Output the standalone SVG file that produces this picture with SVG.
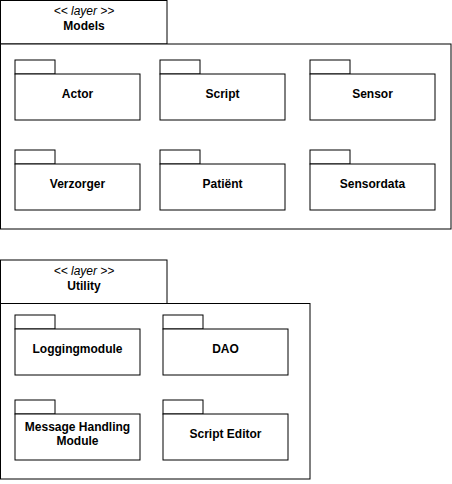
<svg xmlns="http://www.w3.org/2000/svg" width="452" height="484" viewBox="0 0 452 484">
<style>
  .s{fill:#fff;stroke:#000;stroke-width:1}
  .t{font-family:"Liberation Sans",Arial,sans-serif;font-size:12px;font-weight:bold;text-anchor:middle;fill:#000}
  .st{font-family:"Liberation Sans",Arial,sans-serif;font-size:12px;font-style:italic;text-anchor:middle;fill:#000}
</style>
<rect width="452" height="484" fill="#fff"/>
<g id="layer-models">
  <rect class="s" x="0.5" y="0.5" width="166.5" height="43.5"/>
  <rect class="s" x="0.5" y="44" width="450.5" height="185"/>
  <text class="st" x="84" y="15">&lt;&lt; layer &gt;&gt;</text>
  <text class="t" x="84" y="30">Models</text>
</g>
<g id="pkg-actor">
  <rect class="s" x="15" y="60" width="40" height="14"/>
  <rect class="s" x="15" y="74" width="125" height="46"/>
  <text class="t" x="77.5" y="98">Actor</text>
</g>
<g id="pkg-script">
  <rect class="s" x="160" y="60" width="40" height="14"/>
  <rect class="s" x="160" y="74" width="125" height="46"/>
  <text class="t" x="222.5" y="98">Script</text>
</g>
<g id="pkg-sensor">
  <rect class="s" x="310" y="60" width="40" height="14"/>
  <rect class="s" x="310" y="74" width="125" height="46"/>
  <text class="t" x="372.5" y="98">Sensor</text>
</g>
<g id="pkg-verzorger">
  <rect class="s" x="15" y="150" width="40" height="14"/>
  <rect class="s" x="15" y="164" width="125" height="46"/>
  <text class="t" x="77.5" y="188">Verzorger</text>
</g>
<g id="pkg-patient">
  <rect class="s" x="160" y="150" width="40" height="14"/>
  <rect class="s" x="160" y="164" width="125" height="46"/>
  <text class="t" x="222.5" y="188">Patiënt</text>
</g>
<g id="pkg-sensordata">
  <rect class="s" x="310" y="150" width="40" height="14"/>
  <rect class="s" x="310" y="164" width="125" height="46"/>
  <text class="t" x="372.5" y="188">Sensordata</text>
</g>
<g id="layer-utility">
  <rect class="s" x="0.5" y="260" width="166.5" height="43.5"/>
  <rect class="s" x="0.5" y="303.5" width="309.5" height="175.5"/>
  <text class="st" x="84" y="275">&lt;&lt; layer &gt;&gt;</text>
  <text class="t" x="84" y="290">Utility</text>
</g>
<g id="pkg-logging">
  <rect class="s" x="15" y="315" width="40" height="14"/>
  <rect class="s" x="15" y="329" width="125" height="46"/>
  <text class="t" x="77.5" y="353">Loggingmodule</text>
</g>
<g id="pkg-dao">
  <rect class="s" x="163" y="315" width="40" height="14"/>
  <rect class="s" x="163" y="329" width="125" height="46"/>
  <text class="t" x="225.5" y="353">DAO</text>
</g>
<g id="pkg-message">
  <rect class="s" x="15" y="400" width="40" height="14"/>
  <rect class="s" x="15" y="414" width="125" height="46"/>
  <text class="t" x="77.5" y="431">Message Handling</text>
  <text class="t" x="77.5" y="445">Module</text>
</g>
<g id="pkg-scripteditor">
  <rect class="s" x="163" y="400" width="40" height="14"/>
  <rect class="s" x="163" y="414" width="125" height="46"/>
  <text class="t" x="225.5" y="438">Script Editor</text>
</g>
<g id="connectors"></g>
</svg>
